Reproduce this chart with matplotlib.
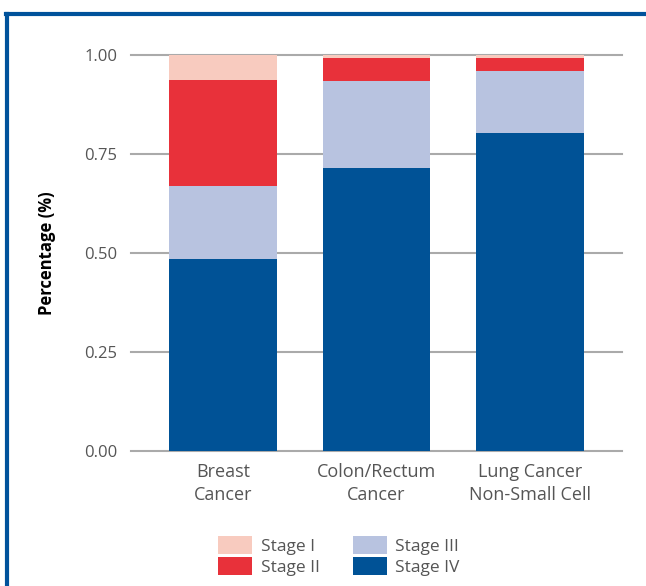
import numpy as np
import matplotlib.pyplot as plt
from matplotlib.lines import Line2D

plt.rcParams['font.family'] = ['Open Sans', 'DejaVu Sans']

cancers = ['Breast\nCancer', 'Colon/Rectum\nCancer', 'Lung Cancer\nNon-Small Cell']
stages = ['Stage I', 'Stage II', 'Stage III', 'Stage IV']

# fraction of patients per stage, stacked from Stage IV at the bottom
stage_iv = [0.485, 0.715, 0.803]
stage_iii = [0.184, 0.219, 0.157]
stage_ii = [0.268, 0.059, 0.033]
stage_i = [0.063, 0.007, 0.007]

colores = {'Stage I': '#f8cbbf', 'Stage II': '#e8313a',
           'Stage III': '#b8c3e0', 'Stage IV': '#005296'}

fig = plt.figure(figsize=(6.46, 5.86), dpi=100)
ax = fig.add_axes([0.203, 0.2304, 0.760, 0.6757])

x = np.arange(len(cancers))
ancho = 0.7
base = np.zeros(len(cancers))
barras = {}
for nombre, valores in [('Stage IV', stage_iv), ('Stage III', stage_iii),
                        ('Stage II', stage_ii), ('Stage I', stage_i)]:
    barras[nombre] = ax.bar(x, valores, ancho, bottom=base, color=colores[nombre],
                            label=nombre, zorder=3)
    base = base + np.array(valores)

ax.set_xlim(-0.6, 2.6)
ax.set_ylim(0, 1.0)
ax.set_yticks([0, 0.25, 0.5, 0.75, 1.0])
ax.set_yticklabels(['0.00', '0.25', '0.50', '0.75', '1.00'])
ax.set_xticks(x)
ax.set_xticklabels(cancers, fontsize=13, linespacing=1.3)
ax.tick_params(length=0, labelsize=12, colors='#555555', pad=10)
ax.tick_params(axis='x', labelsize=13, pad=9)
ax.yaxis.grid(True, color='#aaaaaa', linewidth=1.5, zorder=0)
ax.set_axisbelow(True)
for s in ax.spines.values():
    s.set_visible(False)
for gl in ax.get_ygridlines():
    gl.set_clip_on(False)

ax.set_ylabel('Percentage (%)', fontsize=12, fontweight='bold', color='black', labelpad=20)

fig.legend([barras[s] for s in stages], stages, ncol=2, loc='lower left',
           bbox_to_anchor=(0.322, 0.0), frameon=False, fontsize=12.5,
           labelcolor='#555555', handlelength=1.95, handleheight=1.2,
           handletextpad=0.5, columnspacing=1.9, labelspacing=0.1,
           borderaxespad=0.2)

# blue frame around the figure
azul = '#00529b'
fig.add_artist(Line2D([6 / 646, 1.0], [1 - 14 / 586, 1 - 14 / 586], color=azul,
                      linewidth=3, transform=fig.transFigure))
fig.add_artist(Line2D([7 / 646, 7 / 646], [0, 1 - 14 / 586], color=azul,
                      linewidth=3, transform=fig.transFigure))

plt.savefig('out.png', dpi=100)
